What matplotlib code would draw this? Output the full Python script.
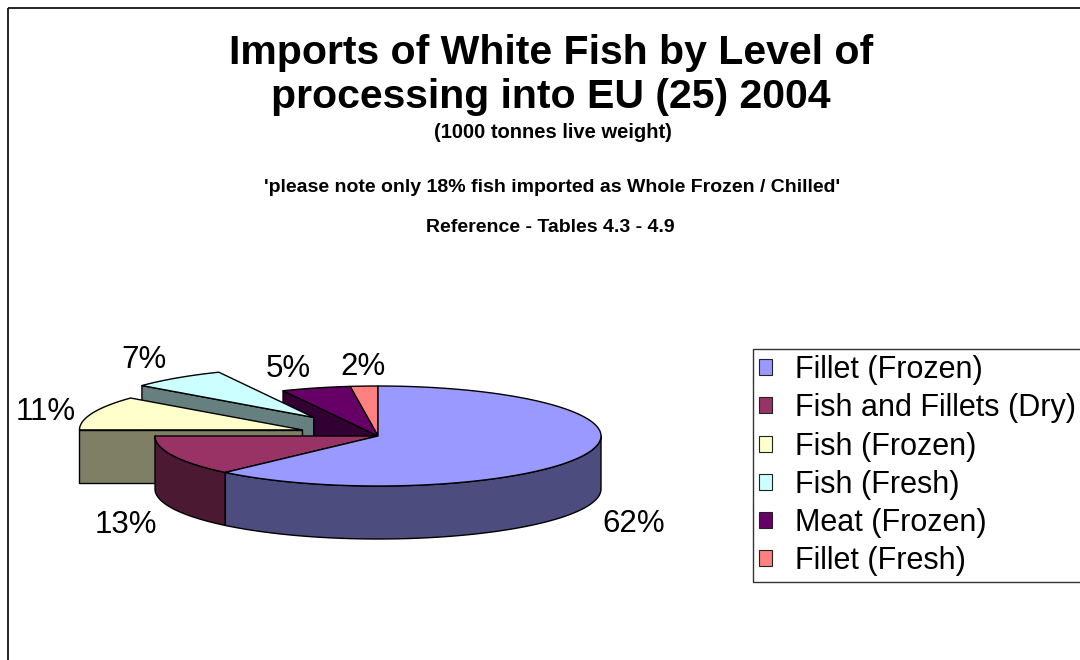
import numpy as np
import matplotlib
matplotlib.use("Agg")
import matplotlib.pyplot as plt
from matplotlib.patches import Polygon, Patch, Rectangle

# share of white fish imports by level of processing (%)
categories = ["Fillet (Frozen)", "Fish and Fillets (Dry)", "Fish (Frozen)",
              "Fish (Fresh)", "Meat (Frozen)", "Fillet (Fresh)"]
shares = [62, 13, 11, 7, 5, 2]
explode = [0, 0, 0.36, 0.47, 0, 0]

top_colors = ["#9999FF", "#993366", "#FFFFCC", "#CCFFFF", "#660066", "#FF8080"]
side_colors = ["#4C4C7F", "#4C1933", "#7F7F66", "#668080", "#330033", "#7F4040"]

plt.rcParams["font.family"] = ["Liberation Sans", "DejaVu Sans"]

fig = plt.figure(figsize=(10.8, 6.6), dpi=100)
ax = fig.add_axes([0, 0, 1, 1])
ax.set_xlim(0, 1080)
ax.set_ylim(660, 0)
ax.axis("off")

# outer chart border (runs off the right and bottom edges)
ax.add_patch(Rectangle((8, 8), 1200, 800, fill=False, edgecolor="black", lw=1.2))

# 3D pie: top face is an ellipse, slab has a fixed thickness
cx, cy = 378, 436
rx, ry = 223, 50
depth = 53


def proj(theta, ox=0.0, oy=0.0):
    t = np.radians(np.atleast_1d(theta))
    return np.column_stack([cx + ox + rx * np.cos(t), cy + oy - ry * np.sin(t)])


def face(pts, color):
    ax.add_patch(Polygon(pts, closed=True, facecolor=color, edgecolor="black",
                         lw=1.0, joinstyle="round"))


total = float(sum(shares))
# excel style: start at 12 o'clock and run clockwise
bounds = 90 - 360 * np.concatenate([[0], np.cumsum(shares)]) / total

offsets = []
for i in range(len(shares)):
    mid = np.radians((bounds[i] + bounds[i + 1]) / 2)
    offsets.append((explode[i] * rx * np.cos(mid), -explode[i] * ry * np.sin(mid)))

# paint back to front: last slice sits at the back, first one at the front
for i in reversed(range(len(shares))):
    t1, t2 = bounds[i], bounds[i + 1]
    ox, oy = offsets[i]
    apex = np.array([cx + ox, cy + oy])

    # cut faces that point towards the viewer
    walls = []
    if np.cos(np.radians(t1)) < -1e-6:
        walls.append(t1)
    if np.cos(np.radians(t2)) > 1e-6:
        walls.append(t2)
    for t in walls:
        rim = proj(t, ox, oy)[0]
        face(np.array([apex, rim, rim + [0, depth], apex + [0, depth]]), side_colors[i])

    # outer rim, only on the front half of the ellipse
    lo, hi = max(t2, -180), min(t1, 0)
    if hi > lo:
        arc = proj(np.linspace(hi, lo, 120), ox, oy)
        face(np.vstack([arc, arc[::-1] + [0, depth]]), side_colors[i])

    arc = proj(np.linspace(t1, t2, 240), ox, oy)
    face(np.vstack([apex, arc]), top_colors[i])

# percentage labels outside each slice
for i, v in enumerate(shares):
    mid = np.radians((bounds[i] + bounds[i + 1]) / 2)
    c, s = np.cos(mid), np.sin(mid)
    ox, oy = offsets[i]
    x = cx + ox + 1.08 * rx * c
    y = cy + oy - 1.08 * ry * s + (depth if s < 0 else 0)
    ha = "left" if c > 0.1 else ("right" if c < -0.1 else "center")
    va = "top" if s < -0.3 else ("bottom" if s > 0.5 else "center")
    ax.text(x, y, f"{100 * v / total:.0f}%", ha=ha, va=va, fontsize=22.5)

# titles
ax.text(551, 53, "Imports of White Fish by Level of", ha="center", va="center",
        fontsize=29.5, fontweight="bold")
ax.text(551, 97, "processing into EU (25) 2004", ha="center", va="center",
        fontsize=29.5, fontweight="bold")
ax.text(553, 132, "(1000 tonnes live weight)", ha="center", va="center",
        fontsize=14.5, fontweight="bold")
ax.text(552, 187, "'please note only 18% fish imported as Whole Frozen / Chilled'",
        ha="center", va="center", fontsize=14, fontweight="bold")
ax.text(550, 227, "Reference - Tables 4.3 - 4.9", ha="center", va="center",
        fontsize=14, fontweight="bold")

handles = [Patch(facecolor=c, edgecolor="#222222", lw=0.8) for c in top_colors]
leg = ax.legend(handles, categories, loc="upper left",
                bbox_to_anchor=(753 / 1080, 1 - 349 / 660), bbox_transform=fig.transFigure,
                fontsize=22, frameon=True, fancybox=False, edgecolor="black",
                borderpad=0.2, labelspacing=0.27, handlelength=0.43,
                handleheight=0.43, handletextpad=0.75, borderaxespad=0)
leg.get_frame().set_linewidth(1.0)

fig.savefig("out.png", dpi=100)
